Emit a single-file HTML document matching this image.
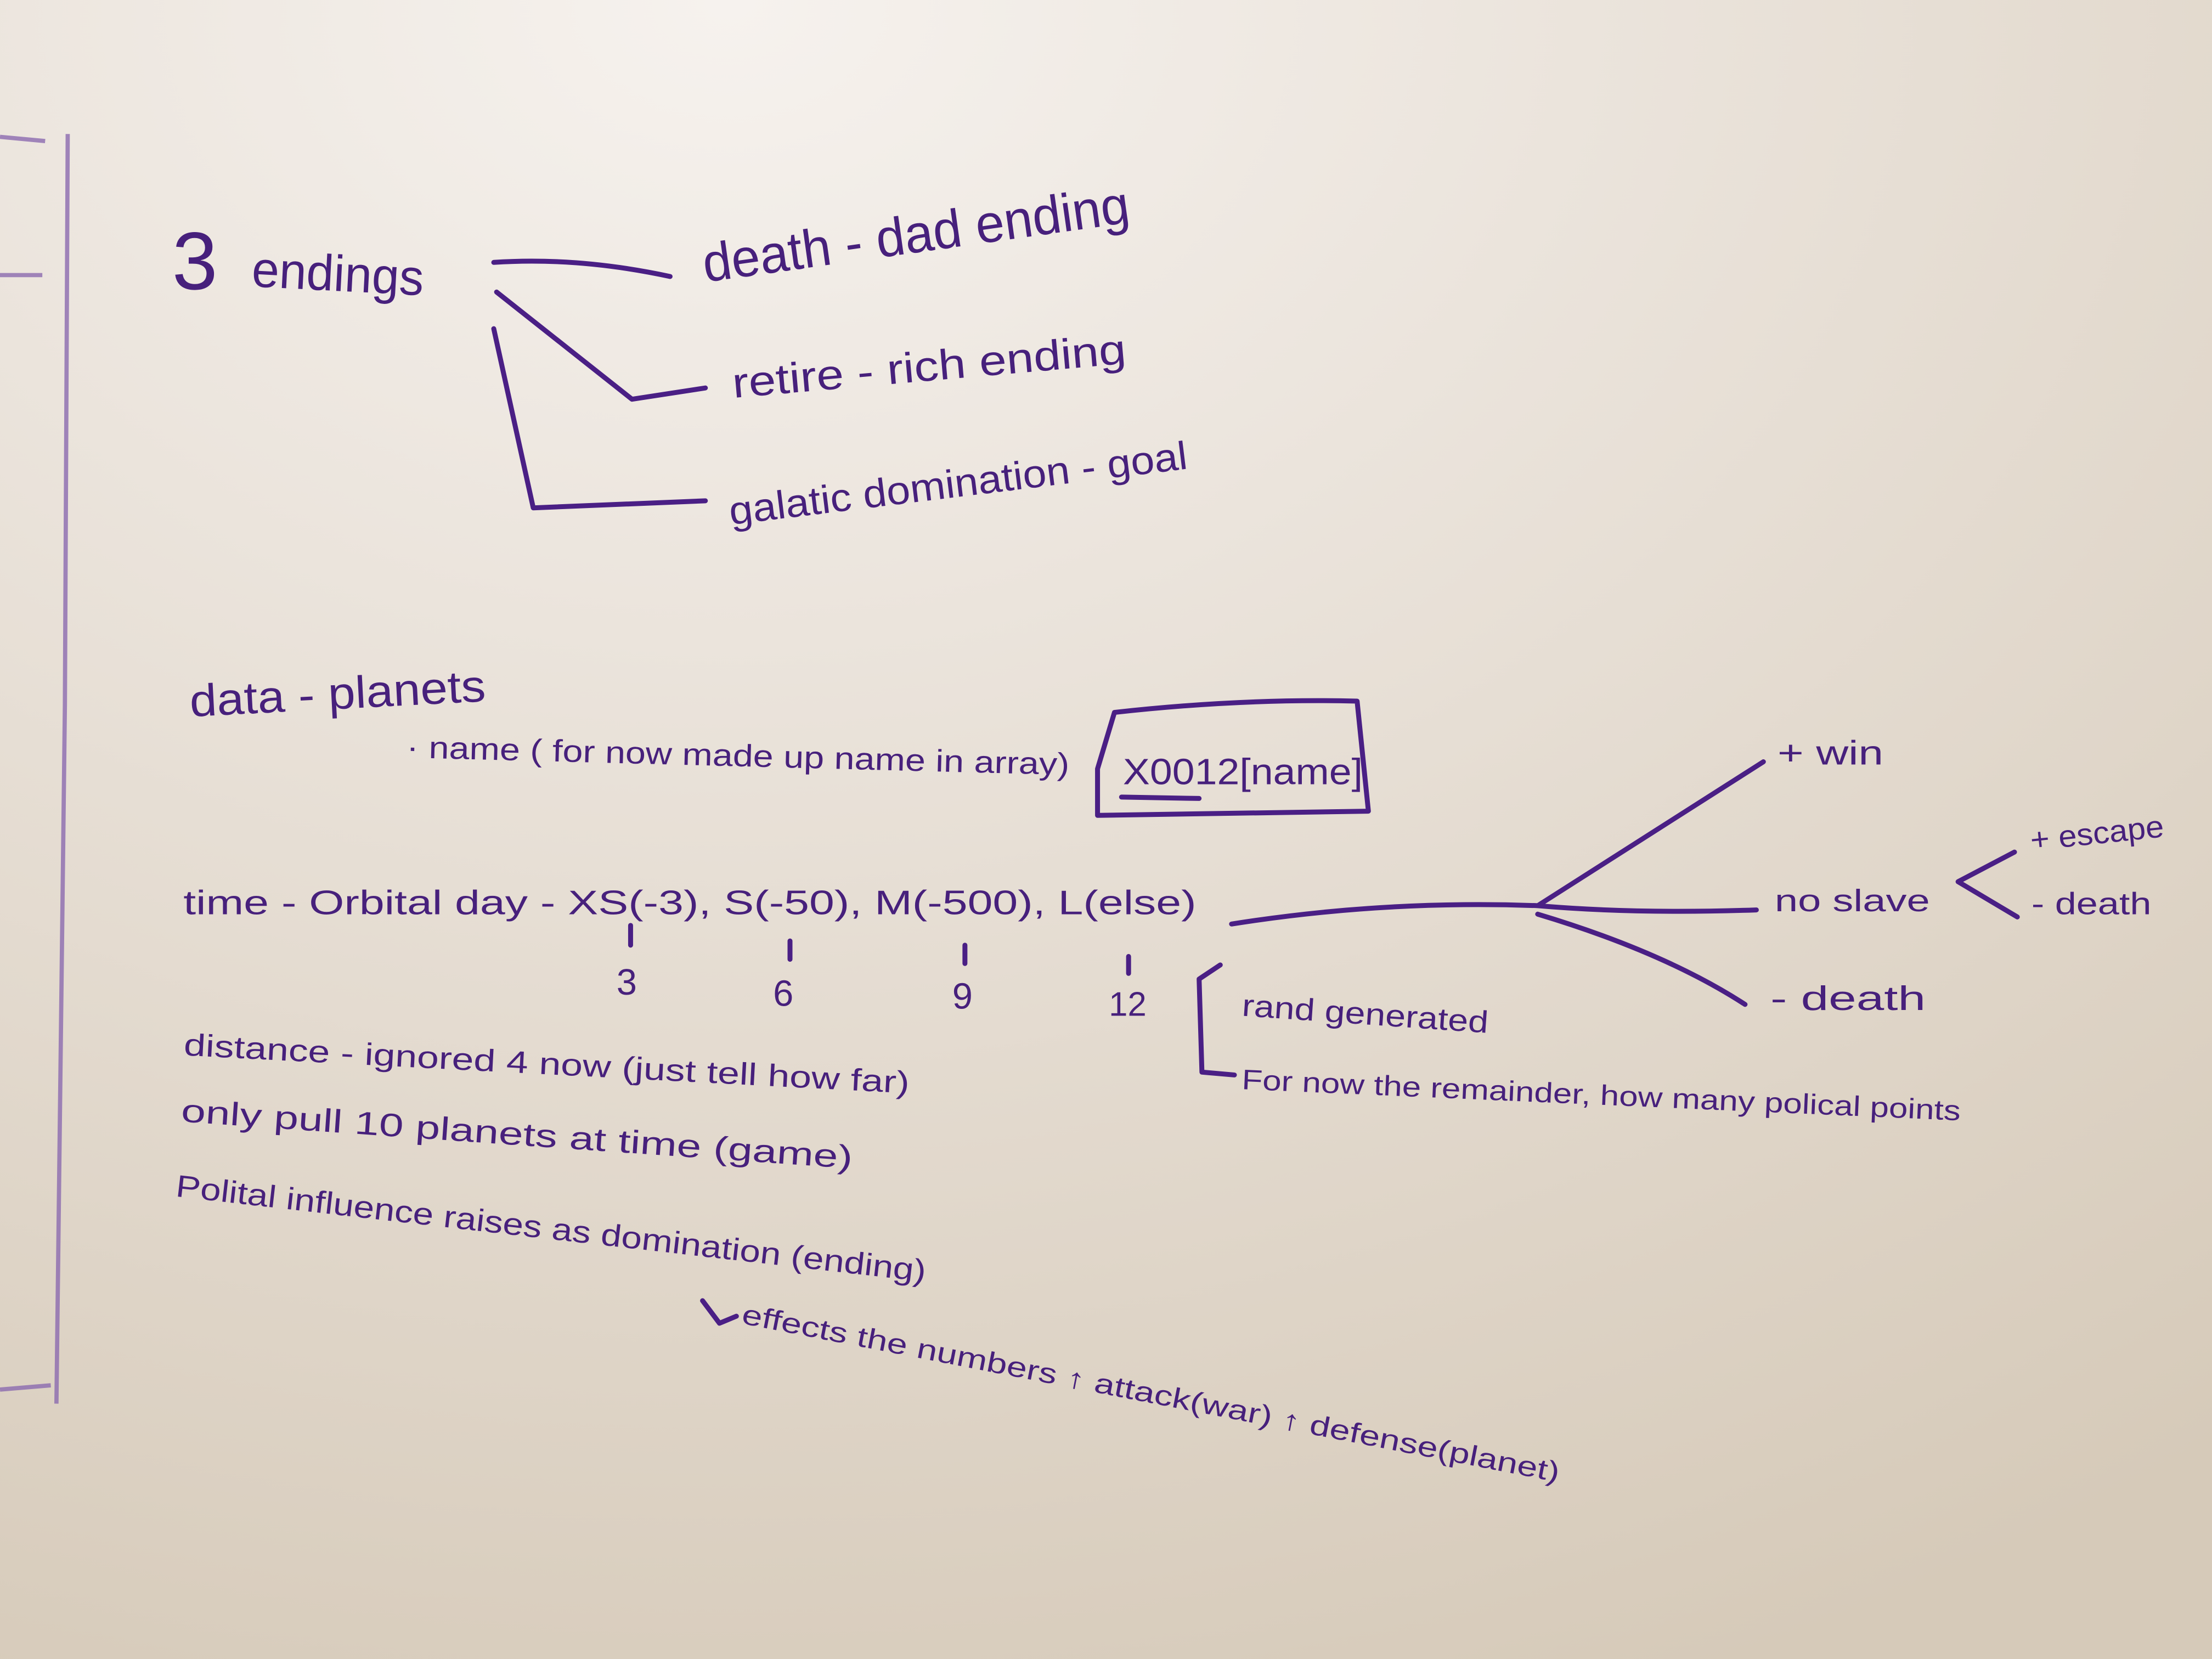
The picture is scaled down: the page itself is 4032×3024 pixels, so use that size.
<!DOCTYPE html>
<html><head><meta charset="utf-8"><style>
html,body{margin:0;padding:0;width:4032px;height:3024px;overflow:hidden}
svg{display:block}
text{font-family:"Liberation Sans",sans-serif;fill:#47207c}
</style></head><body>
<svg width="4032" height="3024" viewBox="0 0 1568 1176" xmlns="http://www.w3.org/2000/svg">
<defs>
<radialGradient id="bg" cx="0.33" cy="0" r="1.1">
<stop offset="0" stop-color="#f6f2ee"/>
<stop offset="0.35" stop-color="#ebe4dc"/>
<stop offset="1" stop-color="#d6cab9"/>
</radialGradient>
</defs>
<rect width="1568" height="1176" fill="url(#bg)"/>
<g stroke="#8c6bb0" stroke-width="3" fill="none" opacity="0.8">
<path d="M48 95 L46 500 L40 995"/>
<path d="M0 97 L32 100 M0 195 L30 195 M0 985 L36 982"/>
</g>
<g stroke="#4a1f85" stroke-width="3.5" fill="none" stroke-linecap="round" stroke-linejoin="round">
<path d="M350 186 Q410 182 475 196"/>
<path d="M352 207 L448 283 L500 275"/>
<path d="M350 233 L378 360 L500 355"/>
<path d="M778 545 L790 505 Q880 495 962 497 L970 575 L778 578 Z"/>
<path d="M795 565 L850 566"/>
<path d="M447 656 L447 670 M560 667 L560 680 M684 670 L684 683 M800 678 L800 690"/>
<path d="M873 655 Q980 638 1090 642 L1250 540 M1090 642 Q1160 648 1245 645 M1090 648 Q1180 675 1237 712"/>
<path d="M1428 604 L1388 625 L1430 650"/>
<path d="M865 684 L850 694 L852 760 L875 762"/>
<path d="M498 922 L510 938 L522 933"/>
</g>
<g>
<text x="122" y="205" font-size="58">3</text>
<text x="178" y="203" font-size="36" textLength="122" lengthAdjust="spacingAndGlyphs" transform="rotate(3 178 203)">endings</text>
<text x="500" y="200" font-size="38" textLength="305" lengthAdjust="spacingAndGlyphs" transform="rotate(-8 500 200)">death - dad ending</text>
<text x="520" y="282" font-size="30" textLength="280" lengthAdjust="spacingAndGlyphs" transform="rotate(-5 520 282)">retire - rich ending</text>
<text x="518" y="372" font-size="28" textLength="327" lengthAdjust="spacingAndGlyphs" transform="rotate(-7 518 372)">galatic domination - goal</text>
<text x="135" y="508" font-size="32" textLength="210" lengthAdjust="spacingAndGlyphs" transform="rotate(-3 135 508)">data - planets</text>
<text x="288" y="537" font-size="22" textLength="470" lengthAdjust="spacingAndGlyphs" transform="rotate(1.5 288 537)">· name ( for now made up name in array)</text>
<text x="796" y="556" font-size="26" textLength="170" lengthAdjust="spacingAndGlyphs">X0012[name]</text>
<text x="130" y="648" font-size="24" textLength="718" lengthAdjust="spacingAndGlyphs">time - Orbital day - XS(-3), S(-50), M(-500), L(else)</text>
<text x="437" y="705" font-size="26">3</text>
<text x="548" y="713" font-size="26">6</text>
<text x="675" y="715" font-size="26">9</text>
<text x="786" y="720" font-size="24">12</text>
<text x="1260" y="542" font-size="24" textLength="75" lengthAdjust="spacingAndGlyphs">+  win</text>
<text x="1258" y="646" font-size="22" textLength="110" lengthAdjust="spacingAndGlyphs">no  slave</text>
<text x="1255" y="716" font-size="24" textLength="110" lengthAdjust="spacingAndGlyphs">-  death</text>
<text x="1440" y="603" font-size="22" textLength="95" lengthAdjust="spacingAndGlyphs" transform="rotate(-6 1440 603)">+ escape</text>
<text x="1440" y="648" font-size="22" textLength="85" lengthAdjust="spacingAndGlyphs">- death</text>
<text x="880" y="720" font-size="22" textLength="175" lengthAdjust="spacingAndGlyphs" transform="rotate(4 880 720)">rand generated</text>
<text x="880" y="772" font-size="20" textLength="510" lengthAdjust="spacingAndGlyphs" transform="rotate(2.5 880 772)">For now the remainder, how many polical points</text>
<text x="130" y="748" font-size="22" textLength="515" lengthAdjust="spacingAndGlyphs" transform="rotate(3 130 748)">distance - ignored 4 now (just tell how far)</text>
<text x="128" y="795" font-size="23" textLength="477" lengthAdjust="spacingAndGlyphs" transform="rotate(4 128 795)">only pull  10  planets  at time (game)</text>
<text x="124" y="848" font-size="22" textLength="535" lengthAdjust="spacingAndGlyphs" transform="rotate(6.5 124 848)">Polital influence raises as domination (ending)</text>
<text x="525" y="938" font-size="20" textLength="590" lengthAdjust="spacingAndGlyphs" transform="rotate(11 525 938)">effects the numbers ↑ attack(war) ↑ defense(planet)</text>
</g>
</svg>
</body></html>
